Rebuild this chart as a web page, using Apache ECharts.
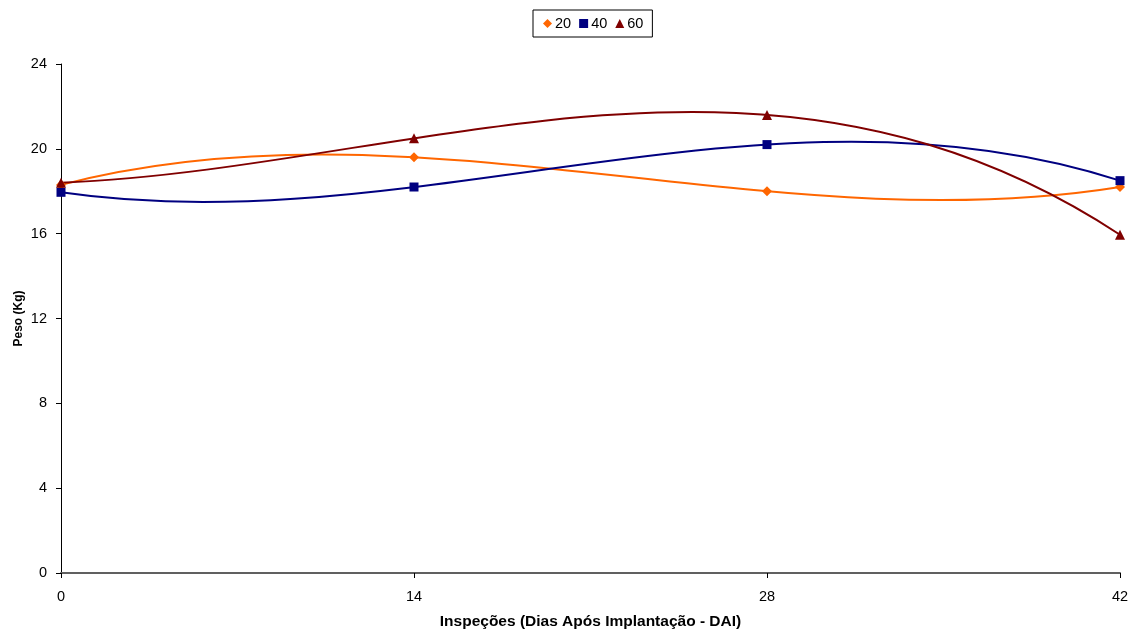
<!DOCTYPE html>
<html>
<head>
<meta charset="utf-8">
<script src="https://cdn.jsdelivr.net/npm/echarts@6/dist/echarts.min.js"></script>
<style>
  html, body { margin: 0; padding: 0; background: #fff; }
  #chart { width: 1138px; height: 635px; }
</style>
</head>
<body>
<div id="chart"></div>
<script>
// Dias após implantação (DAI)
const dias = [0, 14, 28, 42];
// Peso (Kg) por tratamento
const peso20 = [18.3, 19.6, 18.0, 18.2];
const peso40 = [17.95, 18.2, 20.2, 18.5];
const peso60 = [18.4, 20.5, 21.6, 15.95];
const yTicks = [0, 4, 8, 12, 16, 20, 24];

const font = '"Liberation Sans", Arial, sans-serif';
const pairs = (ys) => dias.map((d, i) => [d, ys[i]]);

// Cubic (order 3) polynomial trendline through the four measurements,
// written as one cubic Bezier: with equally spaced days the Bezier
// control ordinates follow directly from the four values.
function bezierOrdinates(y) {
  const b1 = (-5 * y[0] + 18 * y[1] - 9 * y[2] + 2 * y[3]) / 6;
  const b2 = (2 * y[0] - 9 * y[1] + 18 * y[2] - 5 * y[3]) / 6;
  return [y[0], b1, b2, y[3]];
}

function trendline(name, ys, color) {
  return {
    name: name + ' tendência',
    type: 'custom',
    data: [[dias[0], ys[0]]],
    silent: true,
    z: 2,
    renderItem: function (params, api) {
      const b = bezierOrdinates(ys);
      const p0 = api.coord([dias[0], b[0]]);
      const c1 = api.coord([dias[1], b[1]]);
      const c2 = api.coord([dias[2], b[2]]);
      const p3 = api.coord([dias[3], b[3]]);
      return {
        type: 'bezierCurve',
        shape: {
          x1: p0[0], y1: p0[1],
          cpx1: c1[0], cpy1: c1[1],
          cpx2: c2[0], cpy2: c2[1],
          x2: p3[0], y2: p3[1]
        },
        style: { stroke: color, lineWidth: 2, fill: null }
      };
    }
  };
}

function marcas(name, ys, color, symbol, size) {
  return {
    name: name,
    type: 'scatter',
    data: pairs(ys),
    symbol: symbol,
    symbolSize: size,
    itemStyle: { color: color, opacity: 1 },
    emphasis: { disabled: true },
    z: 3
  };
}

const chart = echarts.init(document.getElementById('chart'), null, { renderer: 'canvas' });
chart.setOption({
  animation: false,
  backgroundColor: '#ffffff',
  textStyle: { fontFamily: font },
  legend: {
    top: 10,
    left: 533,
    padding: [6, 9, 6, 10],
    borderColor: '#000',
    borderWidth: 1,
    itemGap: 8,
    itemWidth: 9,
    itemHeight: 9,
    textStyle: { fontFamily: font, fontSize: 14.5, color: '#000', padding: [0, 0, 0, -2] },
    data: [
      { name: '20', icon: 'diamond', itemStyle: { opacity: 1 } },
      { name: '40', icon: 'rect', itemStyle: { opacity: 1 } },
      { name: '60', icon: 'triangle', itemStyle: { opacity: 1 } }
    ]
  },
  grid: { left: 61, right: 18, top: 64, bottom: 62, containLabel: false, outerBoundsMode: 'none' },
  xAxis: {
    type: 'value',
    min: 0,
    max: 42,
    interval: 14,
    name: 'Inspeções (Dias Após Implantação - DAI)',
    nameLocation: 'middle',
    nameGap: 41,
    nameMoveOverlap: false,
    nameTextStyle: { fontFamily: font, fontSize: 15.5, fontWeight: 'bold', color: '#000' },
    axisLine: { lineStyle: { color: '#606060', width: 2 } },
    axisTick: { show: true, length: 5, lineStyle: { color: '#000' } },
    axisLabel: { fontFamily: font, fontSize: 14.5, color: '#000', margin: 16 },
    splitLine: { show: false }
  },
  yAxis: {
    type: 'value',
    min: 0,
    max: 24,
    interval: 4,
    name: 'Peso (Kg)',
    nameLocation: 'middle',
    nameGap: 36,
    nameMoveOverlap: false,
    nameTextStyle: { fontFamily: font, fontSize: 12, fontWeight: 'bold', color: '#000' },
    axisLine: { show: true, lineStyle: { color: '#000', width: 1 } },
    axisTick: { show: true, length: 5, lineStyle: { color: '#000' } },
    axisLabel: {
      fontFamily: font, fontSize: 14.5, color: '#000', margin: 14,
      formatter: (v) => (yTicks.includes(v) ? String(v) : '')
    },
    splitLine: { show: false }
  },
  series: [
    trendline('20', peso20, '#FF6600'),
    trendline('40', peso40, '#000080'),
    trendline('60', peso60, '#800000'),
    marcas('20', peso20, '#FF6600', 'diamond', 10),
    marcas('40', peso40, '#000080', 'rect', 9),
    marcas('60', peso60, '#800000', 'triangle', 10)
  ]
});
</script>
</body>
</html>
